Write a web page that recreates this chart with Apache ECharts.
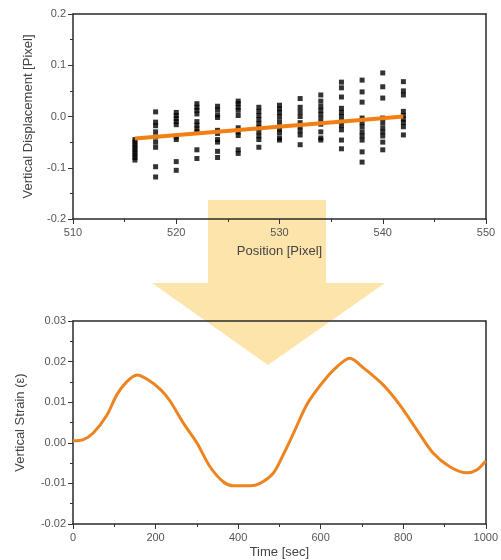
<!DOCTYPE html>
<html>
<head>
<meta charset="utf-8">
<script src="https://cdn.jsdelivr.net/npm/echarts@6/dist/echarts.min.js"></script>
<style>
html,body{margin:0;padding:0;background:#fff;}
#c{width:501px;height:560px;}
</style>
</head>
<body>
<div id="c"></div>
<script>
// Top chart: scatter columns (position -> list of displacement values)
var positions = [516, 518, 520, 522, 524, 526, 528, 530, 532, 534, 536, 538, 540, 542];
var displacements = [
  [-0.045, -0.05, -0.055, -0.06, -0.065, -0.07, -0.075, -0.08, -0.085],
  [0.009, -0.011, -0.018, -0.03, -0.04, -0.05, -0.06, -0.098, -0.118],
  [0.008, 0.002, -0.004, -0.01, -0.016, -0.04, -0.045, -0.088, -0.105],
  [0.025, 0.018, 0.012, 0.005, -0.01, -0.017, -0.024, -0.03, -0.065, -0.082],
  [0.02, 0.013, 0.003, -0.002, -0.027, -0.033, -0.045, -0.05, -0.068, -0.08],
  [0.03, 0.025, 0.018, 0.012, 0.002, -0.022, -0.03, -0.037, -0.065, -0.072],
  [0.018, 0.01, 0.002, -0.006, -0.014, -0.022, -0.03, -0.038, -0.045, -0.06],
  [0.022, 0.015, 0.008, 0.0, -0.01, -0.02, -0.025, -0.032, -0.042, -0.046],
  [0.035, 0.018, 0.009, 0.0, -0.012, -0.02, -0.028, -0.036, -0.055],
  [0.042, 0.03, 0.02, 0.012, 0.004, -0.005, -0.015, -0.03, -0.042, -0.046],
  [0.067, 0.056, 0.038, 0.016, 0.008, 0.0, -0.01, -0.018, -0.026, -0.046, -0.063],
  [0.071, 0.048, 0.028, -0.003, -0.012, -0.02, -0.03, -0.038, -0.046, -0.069, -0.089],
  [0.085, 0.058, 0.036, -0.003, -0.012, -0.022, -0.03, -0.038, -0.05, -0.065],
  [0.068, 0.05, 0.042, 0.01, 0.002, -0.005, -0.012, -0.02, -0.036]
];
// Linear fit line endpoints
var fitX = [516, 542];
var fitY = [-0.043, 0.0];

// Bottom chart: vertical strain over time
var times = [0, 25, 49, 82, 106, 130, 155, 179, 211, 235, 267, 300, 332, 364, 388, 429, 453, 485, 509, 534, 566, 598, 631, 671, 703, 752, 792, 833, 873, 913, 954, 978, 1000];
var strain = [0.0005, 0.0008, 0.0024, 0.0068, 0.0118, 0.015, 0.0167, 0.0157, 0.0132, 0.0103, 0.0049, 0.0, -0.0059, -0.0096, -0.0106, -0.0106, -0.01, -0.0075, -0.003, 0.0023, 0.0093, 0.014, 0.0179, 0.0208, 0.0185, 0.0142, 0.0093, 0.0032, -0.0026, -0.0059, -0.0074, -0.0067, -0.0045];

var scatterData = [];
positions.forEach(function (p, i) {
  displacements[i].forEach(function (v) { scatterData.push([p, v]); });
});
var fitData = fitX.map(function (x, i) { return [x, fitY[i]]; });
var strainData = times.map(function (t, i) { return [t, strain[i]]; });

var FONT = 'Liberation Sans';
var axisLineStyle = { color: '#2a2a2a', width: 1.5 };
function valAxis(o) {
  var base = {
    type: 'value',
    axisLine: { show: true, onZero: false, lineStyle: axisLineStyle },
    axisTick: { show: true, inside: false, length: 5, lineStyle: { color: '#333', width: 1 } },
    minorTick: { show: true, splitNumber: 2, length: 3, lineStyle: { color: '#333', width: 1 } },
    splitLine: { show: false },
    axisLabel: { color: '#555', fontSize: 11, fontFamily: FONT },
    nameTextStyle: { color: '#444', fontSize: 13, fontFamily: FONT }
  };
  for (var k in o) base[k] = o[k];
  return base;
}
function mirrorAxis(o) {
  var base = {
    type: 'value',
    axisLine: { show: true, onZero: false, lineStyle: axisLineStyle },
    axisTick: { show: false }, axisLabel: { show: false }, splitLine: { show: false }
  };
  for (var k in o) base[k] = o[k];
  return base;
}

var chart = echarts.init(document.getElementById('c'), null, { renderer: 'canvas' });
chart.setOption({
  animation: false,
  backgroundColor: '#fff',
  grid: [
    { left: 73, right: 15, top: 14, height: 205 },
    { left: 73, right: 15, top: 321, height: 203 }
  ],
  xAxis: [
    valAxis({ gridIndex: 0, min: 510, max: 550, interval: 10, name: 'Position [Pixel]', nameLocation: 'middle', nameGap: 26,
      axisLabel: { color: '#555', fontSize: 11, fontFamily: FONT, margin: 8, formatter: function (v) { return String(v); } } }),
    valAxis({ gridIndex: 1, min: 0, max: 1000, interval: 200, name: 'Time [sec]', nameLocation: 'middle', nameGap: 22,
      axisLabel: { color: '#555', fontSize: 11, fontFamily: FONT, margin: 8, formatter: function (v) { return String(v); } } }),
    mirrorAxis({ gridIndex: 0, position: 'top', min: 510, max: 550 }),
    mirrorAxis({ gridIndex: 1, position: 'top', min: 0, max: 1000 })
  ],
  yAxis: [
    valAxis({ gridIndex: 0, min: -0.2, max: 0.2, interval: 0.1, name: 'Vertical Displacement [Pixel]', nameLocation: 'middle', nameGap: 38,
      axisLabel: { color: '#555', fontSize: 11, fontFamily: FONT, margin: 7, formatter: function (v) { return v.toFixed(1); } } }),
    valAxis({ gridIndex: 1, min: -0.02, max: 0.03, interval: 0.01, name: 'Vertical Strain (\u03b5)', nameLocation: 'middle', nameGap: 46,
      axisLabel: { color: '#555', fontSize: 11, fontFamily: FONT, margin: 7, formatter: function (v) { return v.toFixed(2); } } }),
    mirrorAxis({ gridIndex: 0, position: 'right', min: -0.2, max: 0.2 }),
    mirrorAxis({ gridIndex: 1, position: 'right', min: -0.02, max: 0.03 })
  ],
  graphic: [{
    type: 'polygon',
    z: -10,
    silent: true,
    shape: { points: [[208, 200], [326, 200], [326, 283], [385, 283], [268, 365], [152, 283], [208, 283]] },
    style: { fill: '#fde4ab' }
  }],
  series: [
    {
      type: 'scatter', xAxisIndex: 0, yAxisIndex: 0, data: scatterData,
      symbol: 'rect', symbolSize: 5, itemStyle: { color: '#000' }, z: 3
    },
    {
      type: 'line', xAxisIndex: 0, yAxisIndex: 0, data: fitData, symbol: 'none',
      lineStyle: { color: '#f27f14', width: 4 }, z: 4
    },
    {
      type: 'line', xAxisIndex: 1, yAxisIndex: 1, data: strainData, symbol: 'none', smooth: 0.3,
      lineStyle: { color: '#ee8420', width: 3 }, z: 4
    }
  ]
});
</script>
</body>
</html>
